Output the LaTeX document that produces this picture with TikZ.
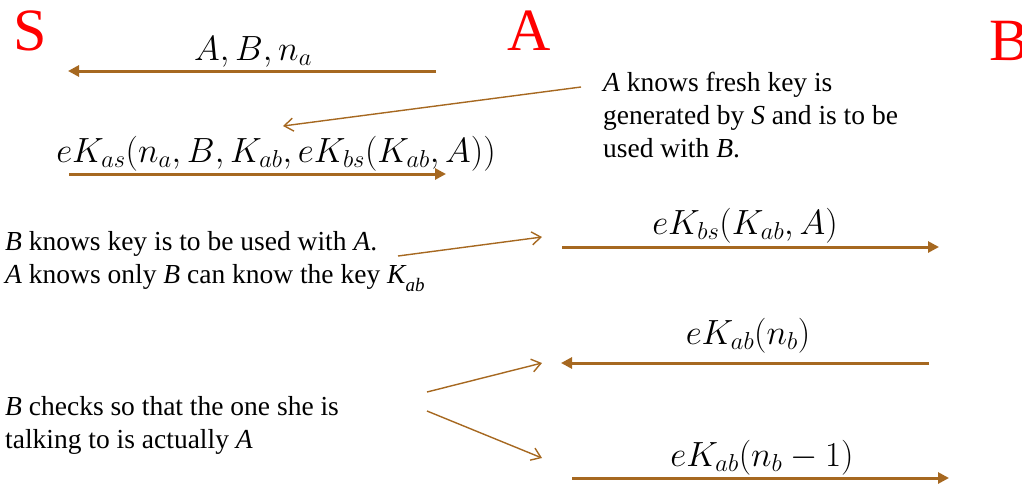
\documentclass[tikz,border=0pt]{standalone}
\usepackage{fix-cm}
\usepackage{fontspec}
\setmainfont{LiberationSerif}[Extension=.ttf, UprightFont=*-Regular, ItalicFont=*-Italic, BoldFont=*-Bold, BoldItalicFont=*-BoldItalic]
\usetikzlibrary{arrows.meta}
\definecolor{arr}{RGB}{166,104,32}
\tikzset{
  msg/.style={draw=arr, line width=3pt, -{Triangle[length=11pt,width=11pt]}},
  callout/.style={draw=arr, line width=1.4pt, -{Straight Barb[length=9pt,width=13pt,line width=1.4pt]}},
  party/.style={text=red, inner sep=0pt, font=\fontsize{60}{60}\selectfont, anchor=base west},
  mlabel/.style={inner sep=0pt, font=\fontsize{35}{40}\selectfont, anchor=base},
  note/.style={inner sep=0pt, font=\fontsize{27.5}{33}\selectfont, align=left, anchor=base west}
}
\newcommand{\Kab}{\textit{K}\kern-1pt\raisebox{-0.3em}{\fontsize{19}{19}\selectfont\textit{ab}}}
\begin{document}
\begin{tikzpicture}[x=1pt,y=-1pt]
\useasboundingbox (0,0) rectangle (1022,485);
% parties
\node[party] (S) at (13,50) {S};
\node[party] (A) at (507,50) {A};
\node[party] (B) at (989,60) {B};
% message 1
\coordinate (m1s) at (436,71);
\coordinate (m1e) at (68,71);
\draw[msg] (m1s) -- (m1e);
\node[mlabel] (l1) at (253,60) {$A, B, n_a$};
% message 2
\coordinate (m2s) at (69,174);
\coordinate (m2e) at (446,174);
\draw[msg] (m2s) -- (m2e);
\node[mlabel] (l2) at (276,162) {$eK_{as}(n_a, B, K_{ab}, eK_{bs}(K_{ab}, A))$};
% note 1
\node[note] (n1) at (603,157) {\textit{A} knows fresh key is\\generated by \textit{S} and is to be\\used with \textit{B}.};
\coordinate (c1s) at (581,87);
\coordinate (c1e) at (283,126);
\draw[callout] (c1s) -- (c1e);
% message 3
\coordinate (m3s) at (562,247);
\coordinate (m3e) at (939,247);
\draw[msg] (m3s) -- (m3e);
\node[mlabel] (l3) at (745,234) {$eK_{bs}(K_{ab}, A)$};
% note 2
\node[note] (n2) at (5,283) {\textit{B} knows key is to be used with \textit{A}.\\\textit{A} knows only \textit{B} can know the key \Kab};
\coordinate (c2s) at (398,256);
\coordinate (c2e) at (542,237);
\draw[callout] (c2s) -- (c2e);
% message 4
\coordinate (m4s) at (929,363);
\coordinate (m4e) at (561,363);
\draw[msg] (m4s) -- (m4e);
\node[mlabel] (l4) at (748,344) {$eK_{ab}(n_b)$};
% message 5
\coordinate (m5s) at (572,478);
\coordinate (m5e) at (949,478);
\draw[msg] (m5s) -- (m5e);
\node[mlabel] (l5) at (762,466) {$eK_{ab}(n_b - 1)$};
% note 3
\node[note] (n3) at (5,448) {\textit{B} checks so that the one she is\\talking to is actually \textit{A}};
\coordinate (c3s) at (427,392);
\coordinate (c3e) at (542,363);
\coordinate (c4s) at (427,411);
\coordinate (c4e) at (542,458);
\draw[callout] (c3s) -- (c3e);
\draw[callout] (c4s) -- (c4e);
\end{tikzpicture}
\end{document}
